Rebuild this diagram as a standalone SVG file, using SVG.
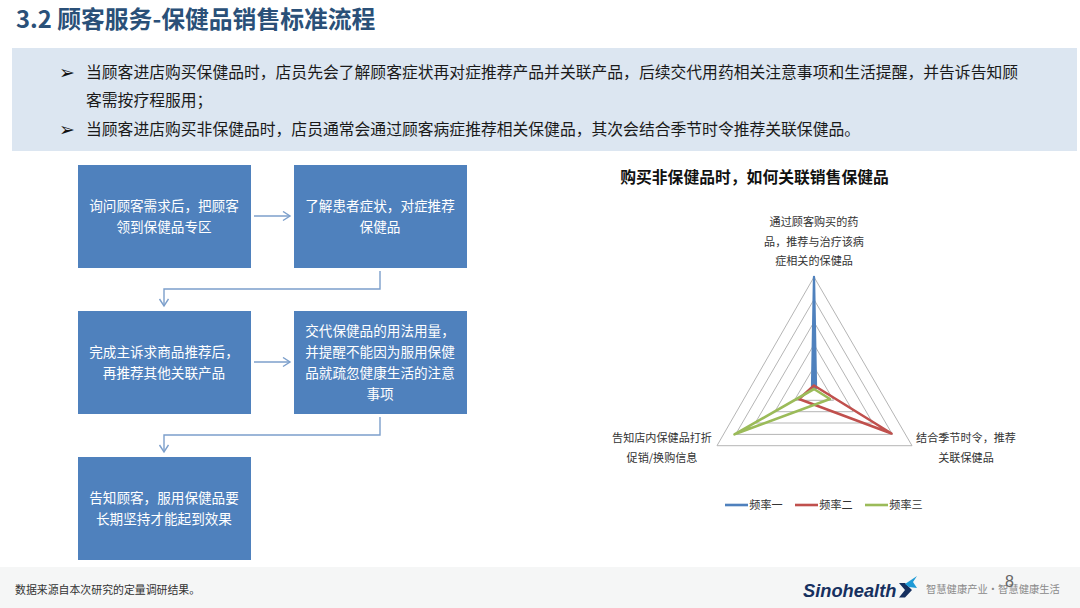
<svg xmlns="http://www.w3.org/2000/svg" width="1080" height="608" viewBox="0 0 1080 608">
<style>
text{font-family:"Noto Sans CJK SC","Noto Sans",sans-serif}
.b{fill:#4f81bd}
.bt{fill:#fff;font-size:13.6px;text-anchor:middle}
.body{fill:#1a1a1a;font-size:15.8px}
.bu{fill:#111;font-size:19px;font-family:"DejaVu Sans",sans-serif}
.cl{fill:#333;font-size:11.1px;text-anchor:middle}
.c{fill:none;stroke:#7c9fcb;stroke-width:1.4}
.r{fill:none;stroke:#b5b5b5;stroke-width:1}
</style>
<defs><marker id="a" markerWidth="12" markerHeight="12" refX="8" refY="5" orient="auto" markerUnits="userSpaceOnUse"><path d="M1 0.5L8 5L1 9.5" fill="none" stroke="#7c9fcb" stroke-width="1.4"/></marker></defs>
<rect width="1080" height="608" fill="#fff"/>
<text x="16" y="28" font-size="23.8" font-weight="700" fill="#2a5078">3.2 顾客服务-保健品销售标准流程</text>
<g id="intro">
<rect x="12" y="48" width="1065" height="103" fill="#dce6f1"/>
<text x="59" y="79" class="bu">➢</text>
<text x="86" y="78" class="body">当顾客进店购买保健品时，店员先会了解顾客症状再对症推荐产品并关联产品，后续交代用药相关注意事项和生活提醒，并告诉告知顾</text>
<text x="86" y="106" class="body">客需按疗程服用；</text>
<text x="59" y="136" class="bu">➢</text>
<text x="86" y="135" class="body">当顾客进店购买非保健品时，店员通常会通过顾客病症推荐相关保健品，其次会结合季节时令推荐关联保健品。</text>
</g>
<g id="connectors">
<path class="c" marker-end="url(#a)" d="M254 216H290"/>
<path class="c" marker-end="url(#a)" d="M254 362H290"/>
<path class="c" marker-end="url(#a)" d="M380 271V289H164V306"/>
<path class="c" marker-end="url(#a)" d="M380 417V435H164V452"/>
</g>
<g id="n1"><rect class="b" x="78" y="165" width="173" height="103"/><text class="bt" x="164" y="211">询问顾客需求后，把顾客</text><text class="bt" x="164" y="232">领到保健品专区</text></g>
<g id="n2"><rect class="b" x="294" y="165" width="173" height="103"/><text class="bt" x="380" y="211">了解患者症状，对症推荐</text><text class="bt" x="380" y="232">保健品</text></g>
<g id="n3"><rect class="b" x="78" y="311" width="173" height="103"/><text class="bt" x="164" y="357">完成主诉求商品推荐后，</text><text class="bt" x="164" y="378">再推荐其他关联产品</text></g>
<g id="n4"><rect class="b" x="294" y="311" width="173" height="103"/><text class="bt" x="380" y="336">交代保健品的用法用量，</text><text class="bt" x="380" y="357">并提醒不能因为服用保健</text><text class="bt" x="380" y="378">品就疏忽健康生活的注意</text><text class="bt" x="380" y="399">事项</text></g>
<g id="n5"><rect class="b" x="78" y="457" width="173" height="103"/><text class="bt" x="164" y="503">告知顾客，服用保健品要</text><text class="bt" x="164" y="524">长期坚持才能起到效果</text></g>
<g id="chart">
<text x="754.500" y="183" font-size="15.800" font-weight="700" fill="#111" text-anchor="middle">购买非保健品时，如何关联销售保健品</text>
<path class="r" d="M814 277L912 445.700H717Z"/>
<path class="r" d="M814 299.500L892.400 434.400H735.600Z"/>
<path class="r" d="M814 322L872.800 423H755.200Z"/>
<path class="r" d="M814 344.500L853.200 411.700H774.800Z"/>
<path class="r" d="M814 367L833.600 400.300H794.400Z"/>
<path d="M814 277L816 388L812 388Z" fill="#4f81bd" stroke="#4f81bd" stroke-width="2.300" stroke-linejoin="round"/>
<path d="M814 385.500L891.500 433.500L799 399Z" fill="none" stroke="#c0504d" stroke-width="2.600" stroke-linejoin="round"/>
<path d="M814 389L830 399L734.500 434.300Z" fill="none" stroke="#9bbb59" stroke-width="2.600" stroke-linejoin="round"/>
<text class="cl" x="814" y="226">通过顾客购买的药</text>
<text class="cl" x="814" y="246">品，推荐与治疗该病</text>
<text class="cl" x="814" y="265">症相关的保健品</text>
<text class="cl" x="662" y="442">告知店内保健品打折</text>
<text class="cl" x="662" y="462">促销/换购信息</text>
<text class="cl" x="966" y="442">结合季节时令，推荐</text>
<text class="cl" x="966" y="462">关联保健品</text>
<path d="M725 505H748" stroke="#4f81bd" stroke-width="2.600"/>
<path d="M795 505H818" stroke="#c0504d" stroke-width="2.600"/>
<path d="M865 505H888" stroke="#9bbb59" stroke-width="2.600"/>
<text class="cl" x="766" y="509">频率一</text>
<text class="cl" x="836" y="509">频率二</text>
<text class="cl" x="906" y="509">频率三</text>
</g>
<g id="footer">
<rect y="567" width="1080" height="41" fill="#f5f6f6"/>
<text x="15" y="594" font-size="10.900" fill="#333">数据来源自本次研究的定量调研结果。</text>
<text x="803" y="597" font-size="18.300" font-weight="700" font-style="italic" fill="#16305f" style="font-family:'Liberation Sans',sans-serif">Sinohealth</text>
<path d="M899 583H905L912 590L905 597.500H899L905 590Z" fill="#16305f"/>
<path d="M905 584L917 576L913 582L917 588L909 587Z" fill="#1e9ad6"/>
<text x="926" y="593" font-size="10.300" fill="#8a8a8a">智慧健康产业·智慧健康生活</text>
<text x="1005" y="587" font-size="16" fill="#666" style="font-family:'Liberation Sans',sans-serif">8</text>
</g>
</svg>
